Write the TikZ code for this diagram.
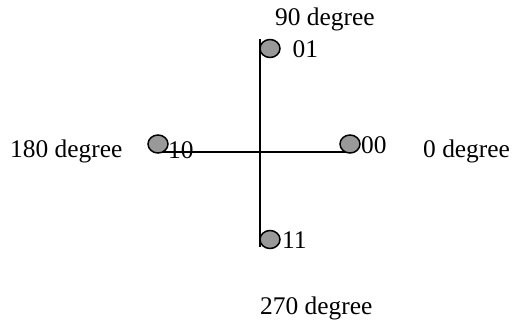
\documentclass[tikz,border=0pt]{standalone}
\usepackage{fontspec}
\setmainfont{Liberation Serif}
\usetikzlibrary{shapes.geometric}
\begin{document}
\begin{tikzpicture}[x=1bp,y=-1bp,
  dot/.style={ellipse,draw=black,line width=1.5bp,fill=gray!80,minimum width=20bp,minimum height=18bp,inner sep=0pt},
  lbl/.style={anchor=base west,inner sep=0pt,font=\fontsize{25.5}{30}\selectfont},
  axis/.style={line width=1.5bp,black}]
\useasboundingbox (0,0) rectangle (517,322);
\coordinate (vt) at (260,39);
\coordinate (vb) at (260,247);
\coordinate (hl) at (160,152);
\coordinate (hr) at (346,152);
\draw[axis] (vt) -- (vb);
\draw[axis] (hl) -- (hr);
\node[dot] (p01) at (270,48.5) {};
\node[dot] (p10) at (158,144) {};
\node[dot] (p00) at (350,144) {};
\node[dot] (p11) at (270,239.5) {};
\node[lbl] (t01) at (292.5,57) {01};
\node[lbl] (t10) at (168,158) {10};
\node[lbl] (t00) at (361,153) {00};
\node[lbl] (t11) at (282,248) {11};
\node[lbl] (d90) at (275,25) {90 degree};
\node[lbl] (d180) at (10,157) {180 degree};
\node[lbl] (d0) at (423,157) {0 degree};
\node[lbl] (d270) at (260,314) {270 degree};
\end{tikzpicture}
\end{document}
